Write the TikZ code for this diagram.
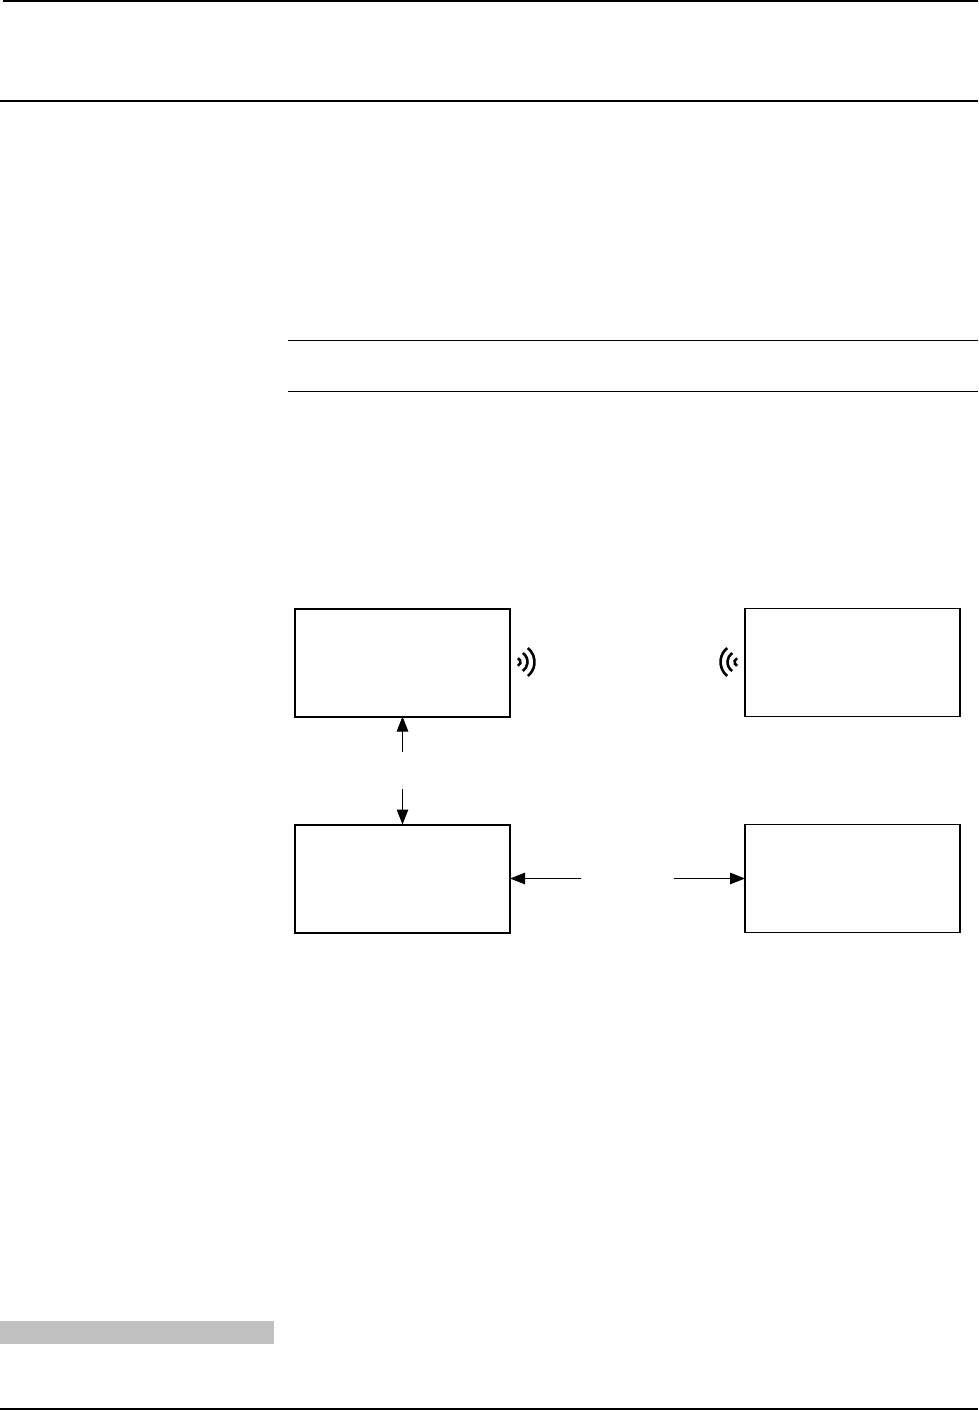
\documentclass[tikz,border=0pt]{standalone}
\usepackage{amsmath,amssymb}
\usetikzlibrary{positioning,arrows.meta}

\definecolor{bargray}{HTML}{C0C0C0}

\begin{document}
\begin{tikzpicture}[x=1pt,y=-1pt,
  box/.style={draw,minimum height=108pt,minimum width=215pt,outer sep=0pt,
    inner sep=0pt,line width=1.3pt},
  heavybox/.style={box,line width=2pt},
  ar/.style={-{Triangle[length=15pt,width=11.5pt]},line width=1pt},
  rule/.style={line width=2pt},
  thinrule/.style={line width=1pt},
  wave/.style={line width=2.6pt}, node distance=108pt and 235pt]
\useasboundingbox (0,0) rectangle (978,1410);
% page rules
\coordinate (headl) at (3,1);
\coordinate (headr) at (978,1);
\coordinate (subl) at (0,101);
\coordinate (subr) at (978,101);
\coordinate (footl) at (0,1409);
\coordinate (footr) at (978,1409);
\draw[rule] (headl)--(headr);
\draw[rule] (subl)--(subr);
\draw[rule] (footl)--(footr);
\coordinate (notel) at (288,340.5);
\coordinate (noter) at (978,340.5);
\coordinate (notebl) at (288,391.5);
\coordinate (notebr) at (978,391.5);
\draw[thinrule] (notel)--(noter);
\draw[thinrule] (notebl)--(notebr);
\fill[bargray] (0,1321) rectangle (274,1344);
% boxes
\node[heavybox] (radioa) at (402.5,662.5) {};
\node[box,right=of radioa] (radiob) {};
\node[heavybox,below=of radioa] (basea) {};
\node[box,right=of basea] (baseb) {};
% arrows
\coordinate (upend) at (402.5,752);
\coordinate (downend) at (402.5,789);
\coordinate (leftend) at (581,878.5);
\coordinate (rightend) at (674,878.5);
\draw[ar] (upend)--(radioa.south);
\draw[ar] (downend)--(basea.north);
\draw[ar] (leftend)--(basea.east);
\draw[ar] (rightend)--(baseb.west);
% radio waves
\foreach \r/\a in {4/70,11/55,18/51}{
  \draw[wave] (516.5,662) ++(-\a:\r) arc[start angle=-\a,end angle=\a,radius=\r];
  \draw[wave] (738.5,662) ++(180-\a:\r) arc[start angle=180-\a,end angle=180+\a,radius=\r];
}
\end{tikzpicture}
\end{document}
